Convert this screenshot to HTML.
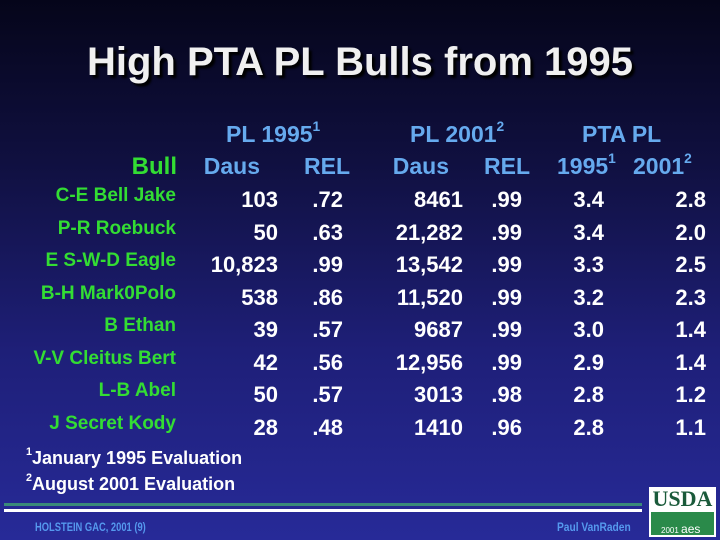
<!DOCTYPE html>
<html><head><meta charset="utf-8"><style>
body{margin:0}
#s{position:relative;width:720px;height:540px;overflow:hidden;background:linear-gradient(180deg,#05051a 0%,#101040 30%,#1e1f78 65%,#272a98 100%);font-family:"Liberation Sans",sans-serif;font-weight:bold}
.t{position:absolute;white-space:nowrap}
.r{text-align:right}
.n{color:#fff;font-size:22px}
.g{color:#33dd33;font-size:19px}
.h{color:#66aaee;font-size:23px}
sup{font-size:60%;vertical-align:top;position:relative;top:-2px}
</style></head><body>
<div id="s">
<div class="t" style="left:0;width:720px;text-align:center;top:40px;font-size:40px;color:#f0f0f0;text-shadow:3px 3px 2px #000">High PTA PL Bulls from 1995</div>
<div class="t h" style="left:226px;top:121px">PL 1995<sup>1</sup></div>
<div class="t h" style="left:410px;top:121px">PL 2001<sup>2</sup></div>
<div class="t h" style="left:582px;top:121px">PTA PL</div>
<div class="t r" style="right:543px;top:153px;color:#33dd33;font-size:24px">Bull</div>
<div class="t h r" style="right:460px;top:153px">Daus</div>
<div class="t h r" style="right:370px;top:153px">REL</div>
<div class="t h r" style="right:271px;top:153px">Daus</div>
<div class="t h r" style="right:190px;top:153px">REL</div>
<div class="t h" style="left:557px;top:153px">1995<sup>1</sup></div>
<div class="t h" style="left:633px;top:153px">2001<sup>2</sup></div>
<div id="rows"></div>
<div class="t" style="left:26px;top:448px;color:#fff;font-size:18px"><sup>1</sup>January 1995 Evaluation</div>
<div class="t" style="left:26px;top:474px;color:#fff;font-size:18px"><sup>2</sup>August 2001 Evaluation</div>
<div class="t" style="left:4px;top:503px;width:638px;height:3px;background:#3a8a7a"></div>
<div class="t" style="left:4px;top:509px;width:638px;height:3px;background:#fff"></div>
<div class="t" style="left:35px;top:520px;color:#5599ee;font-size:12px;transform:scaleX(0.78);transform-origin:left">HOLSTEIN GAC, 2001 (9)</div>
<div class="t" style="left:557px;top:520px;color:#5599ee;font-size:12px;transform:scaleX(0.85);transform-origin:left">Paul VanRaden</div>
<div class="t" style="left:649px;top:487px;width:67px;height:50px;background:#fff">
<div style="color:#1a5a3a;font-size:22px;font-family:'Liberation Serif',serif;text-align:center;line-height:24px">USDA</div>
<div style="position:absolute;left:2px;top:25px;width:63px;height:23px;background:#2a8a4a;color:#fff;font-size:8px;font-weight:normal;line-height:34px;padding-left:10px;box-sizing:border-box">2001 <span style="font-size:12px">aes</span></div>
</div>
</div>
<script>
const bulls=["C-E Bell Jake","P-R Roebuck","E S-W-D Eagle","B-H Mark0Polo","B Ethan","V-V Cleitus Bert","L-B Abel","J Secret Kody"];
const daus95=["103","50","10,823","538","39","42","50","28"];
const rel95=[".72",".63",".99",".86",".57",".56",".57",".48"];
const daus01=["8461","21,282","13,542","11,520","9687","12,956","3013","1410"];
const rel01=[".99",".99",".99",".99",".99",".99",".98",".96"];
const pta95=["3.4","3.4","3.3","3.2","3.0","2.9","2.8","2.8"];
const pta01=["2.8","2.0","2.5","2.3","1.4","1.4","1.2","1.1"];
const cols=[[bulls,544,'g',-2],[daus95,442,'n',0],[rel95,377,'n',0],[daus01,257,'n',0],[rel01,198,'n',0],[pta95,116,'n',0],[pta01,14,'n',0]];
const names=['bull-name','daus-1995','rel-1995','daus-2001','rel-2001','pta-1995','pta-2001'];
const root=document.getElementById('rows');
cols.forEach((c,ci)=>{c[0].forEach((v,i)=>{
 const d=document.createElement('div');
 d.className='t r '+c[2];
 d.style.right=c[1]+'px';
 d.style.top=(187+i*32.5+c[3])+'px';
 d.textContent=v;
 
 
 root.appendChild(d);
});});
</script>
</body></html>
